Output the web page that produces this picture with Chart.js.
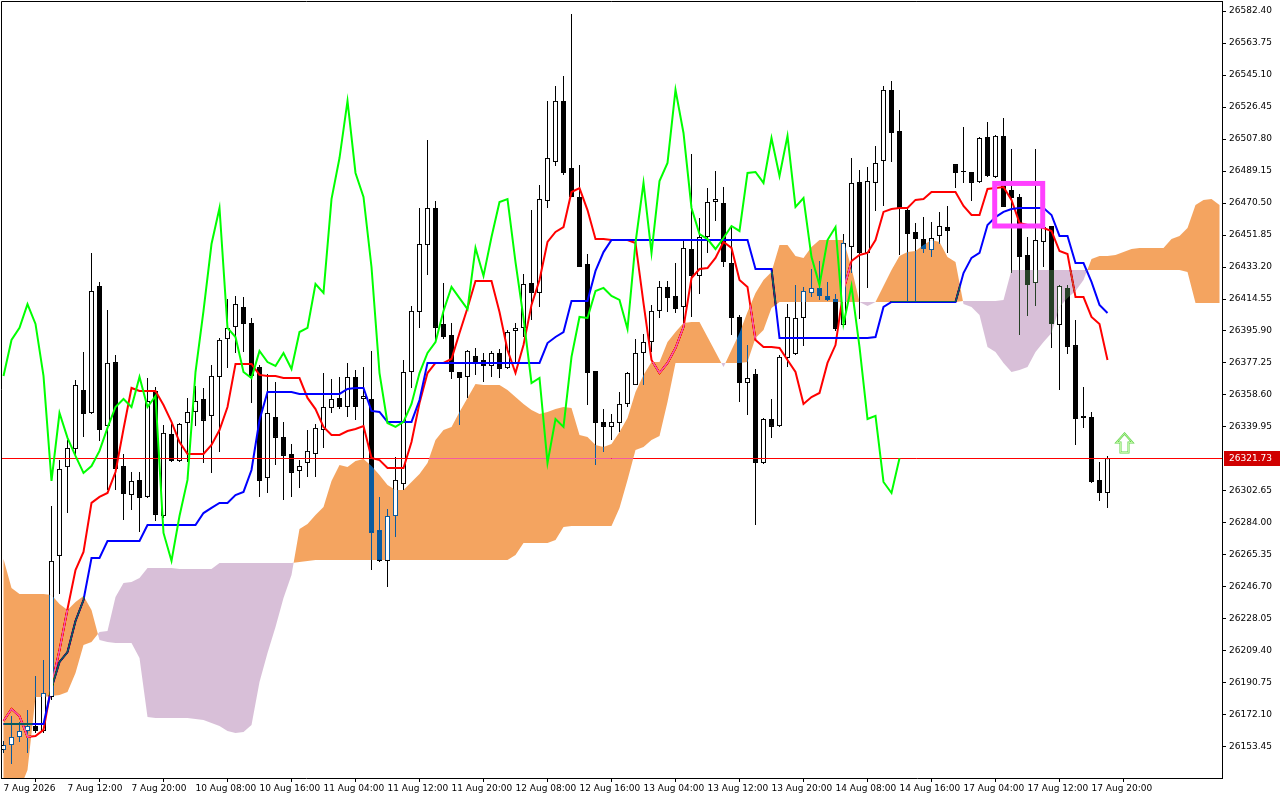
<!DOCTYPE html>
<html><head><meta charset="utf-8">
<script src="https://cdn.jsdelivr.net/npm/chart.js@4.4.1/dist/chart.umd.min.js"></script>
<style>html,body{margin:0;padding:0;background:#fff;overflow:hidden}canvas{display:block}</style>
</head><body>
<canvas id="c" width="1280" height="800"></canvas>
<script>
const xLabels = ['7 Aug 2026','7 Aug 12:00','7 Aug 20:00','10 Aug 08:00','10 Aug 16:00','11 Aug 04:00','11 Aug 12:00','11 Aug 20:00','12 Aug 08:00','12 Aug 16:00','13 Aug 04:00','13 Aug 12:00','13 Aug 20:00','14 Aug 08:00','14 Aug 16:00','17 Aug 04:00','17 Aug 12:00','17 Aug 20:00'];
const xTickIdx = [0,8,16,24,32,40,48,56,64,72,80,88,96,104,112,120,128,136];
const yTicks = [26153.45,26172.10,26190.75,26209.40,26228.05,26246.70,26265.35,26284.00,26302.65,26339.95,26358.60,26377.25,26395.90,26414.55,26433.20,26451.85,26470.50,26489.15,26507.80,26526.45,26545.10,26563.75,26582.40];

const open = [
26151.7,26154.6,26159.3,26162.8,26165.7,26162.8,26182.6,26264.8,26316.6,26327.1,
26361.5,26348.1,26422.1,26340.5,26377.8,26317.2,26300.3,26309.1,26299.2,26360.9,
26288.1,26335.9,26320.1,26342.3,26348.7,26356.3,26346.4,26369.1,26391.2,26398.2,
26409.9,26400.6,26374.9,26310.2,26345.8,26334.1,26324.2,26314.3,26319.0,26324.2,
26338.2,26351.0,26356.9,26351.6,26369.1,26356.3,26356.3,26279.9,26261.9,26288.1,
26306.7,26372.0,26407.0,26446.0,26467.6,26400.0,26393.6,26372.0,26369.1,26381.3,
26379.0,26375.5,26383.1,26374.3,26395.9,26397.7,26423.9,26418.1,26471.7,26494.4,
26530.0,26490.9,26474.0,26435.0,26372.6,26342.9,26340.0,26342.3,26353.4,26364.4,
26383.1,26389.5,26407.6,26421.6,26416.3,26409.9,26443.7,26428.0,26450.7,26471.1,
26470.5,26435.5,26404.1,26365.6,26370.8,26319.0,26344.6,26340.5,26380.2,26382.5,
26403.5,26418.1,26421.0,26416.3,26414.6,26399.4,26444.9,26482.7,26441.4,26482.2,
26495.0,26536.4,26512.5,26466.4,26453.6,26449.5,26443.1,26451.3,26456.5,26493.2,
26489.2,26488.6,26482.7,26509.0,26485.7,26509.6,26478.1,26474.0,26440.2,26423.9,
26447.8,26457.1,26399.4,26421.0,26387.7,26345.2,26345.8,26309.1,26301.5];
const high = [
26157.0,26171.5,26168.0,26175.0,26194.8,26204.2,26293.9,26320.7,26332.4,26367.4,
26383.7,26441.4,26424.5,26408.1,26381.9,26324.2,26313.7,26313.7,26368.5,26363.3,
26341.1,26341.7,26342.3,26356.9,26363.9,26362.7,26376.1,26391.8,26414.6,26416.3,
26415.7,26403.5,26376.1,26370.8,26366.2,26342.9,26330.1,26320.7,26338.2,26341.7,
26371.4,26367.9,26369.1,26377.3,26373.2,26374.9,26384.3,26299.2,26292.2,26322.5,
26379.0,26410.5,26467.6,26507.2,26471.7,26423.9,26400.6,26372.0,26384.8,26386.0,
26383.1,26384.3,26385.4,26396.5,26400.6,26429.1,26466.4,26481.0,26530.0,26538.7,
26544.5,26580.7,26492.7,26440.8,26372.6,26350.4,26347.5,26360.4,26372.0,26391.2,
26394.2,26411.1,26425.0,26425.0,26435.5,26448.4,26499.1,26461.8,26479.2,26489.2,
26479.8,26456.5,26405.2,26387.7,26373.8,26345.2,26356.3,26381.9,26411.6,26422.7,
26421.6,26432.0,26436.7,26424.5,26417.5,26452.4,26496.7,26489.7,26491.5,26503.7,
26538.7,26541.6,26524.7,26467.6,26458.9,26462.3,26459.4,26465.3,26468.8,26493.2,
26514.8,26488.6,26509.0,26517.7,26510.1,26520.0,26502.0,26475.8,26450.7,26502.0,
26456.5,26457.1,26422.7,26422.7,26402.3,26363.3,26348.7,26319.6,26323.1];
const low = [
26150.0,26143.6,26156.4,26150.0,26161.6,26161.6,26180.9,26242.6,26289.8,26323.1,
26334.1,26347.5,26331.8,26303.2,26303.2,26285.8,26291.6,26278.8,26298.6,26285.2,
26286.9,26319.6,26319.6,26319.6,26340.5,26319.0,26313.2,26325.4,26374.3,26383.1,
26383.7,26353.9,26299.2,26301.5,26317.8,26297.4,26299.2,26304.4,26310.8,26310.8,
26327.7,26348.1,26350.4,26345.8,26344.0,26321.9,26256.6,26261.3,26246.7,26275.9,
26303.2,26362.7,26397.7,26428.5,26389.5,26391.2,26367.9,26341.1,26356.9,26370.3,
26366.2,26369.1,26368.5,26373.8,26377.8,26392.4,26402.3,26409.9,26467.6,26492.1,
26486.8,26474.0,26433.2,26352.8,26317.8,26325.4,26332.4,26337.0,26351.6,26364.4,
26364.4,26383.7,26403.5,26407.0,26406.4,26398.2,26404.1,26417.5,26441.4,26460.0,
26433.2,26393.6,26354.5,26347.0,26282.8,26318.4,26333.6,26340.0,26374.9,26381.9,
26387.2,26415.7,26414.0,26413.4,26395.9,26398.2,26429.7,26402.9,26421.0,26465.8,
26468.8,26494.4,26440.2,26412.8,26412.8,26441.4,26439.0,26446.6,26441.4,26479.2,
26482.2,26471.7,26482.2,26485.7,26485.1,26468.2,26429.7,26393.6,26404.7,26410.5,
26433.2,26386.0,26361.5,26382.5,26329.5,26339.4,26307.3,26296.8,26292.8];
const close = [
26154.6,26159.3,26162.8,26165.7,26162.8,26184.9,26261.9,26315.5,26327.7,26364.4,
26347.5,26419.2,26338.2,26377.3,26315.5,26300.9,26308.5,26298.6,26355.1,26288.7,
26336.5,26320.1,26341.7,26348.7,26355.1,26343.5,26369.7,26390.7,26397.7,26411.6,
26400.0,26369.7,26308.5,26348.1,26333.6,26323.1,26313.2,26317.2,26326.0,26339.4,
26351.6,26356.3,26351.6,26369.1,26351.6,26358.0,26278.2,26261.9,26288.1,26309.1,
26372.0,26407.6,26446.6,26467.6,26397.7,26392.4,26372.0,26368.5,26384.3,26377.8,
26375.5,26383.1,26373.8,26395.3,26397.7,26423.3,26418.1,26472.8,26496.7,26530.0,
26488.0,26474.0,26433.2,26371.4,26342.3,26340.0,26342.9,26353.4,26371.4,26383.1,
26389.5,26407.6,26421.6,26415.1,26408.7,26444.3,26428.0,26450.7,26471.1,26472.8,
26436.1,26403.5,26365.6,26368.5,26319.0,26344.6,26340.0,26380.8,26404.1,26403.5,
26419.2,26421.0,26416.3,26414.0,26397.1,26447.2,26482.2,26441.4,26483.3,26493.8,
26536.4,26511.3,26467.6,26452.4,26449.5,26443.7,26450.1,26457.1,26454.2,26488.0,
26488.6,26482.2,26508.4,26486.2,26509.6,26468.2,26473.4,26439.0,26422.7,26448.9,
26456.5,26400.0,26422.1,26386.6,26344.6,26346.4,26307.9,26301.5,26321.73];
const tenkan = [
26168.6,26175.6,26171.5,26159.3,26159.9,26163.4,26189.0,26210.0,26233.9,26256.6,
26267.1,26295.7,26299.2,26301.5,26313.7,26338.8,26362.7,26360.9,26360.9,26360.9,
26352.8,26342.9,26331.2,26324.2,26324.2,26324.2,26329.5,26338.2,26351.6,26376.7,
26376.7,26376.7,26370.3,26369.7,26369.7,26368.5,26368.5,26368.5,26356.9,26350.4,
26340.0,26335.3,26335.3,26337.6,26338.8,26340.5,26321.9,26320.7,26316.1,26316.1,
26316.1,26331.2,26353.9,26371.4,26377.3,26377.3,26379.6,26394.7,26409.3,26425.0,
26425.0,26425.0,26407.0,26384.8,26371.4,26387.7,26411.1,26425.6,26447.8,26453.6,
26456.5,26476.9,26479.2,26466.4,26449.5,26449.5,26448.9,26448.9,26448.9,26447.2,
26412.2,26379.0,26371.4,26377.3,26386.0,26398.2,26426.8,26432.0,26432.6,26438.5,
26447.8,26444.3,26425.6,26421.6,26390.7,26386.6,26386.6,26386.0,26379.0,26372.0,
26353.4,26357.4,26359.8,26377.3,26387.7,26419.8,26436.7,26440.2,26441.4,26448.9,
26465.3,26467.0,26467.6,26467.6,26472.3,26472.8,26476.9,26476.9,26476.9,26476.9,
26468.8,26463.5,26463.5,26478.7,26479.2,26479.8,26472.3,26458.9,26457.7,26457.1,
26455.9,26454.2,26442.5,26440.8,26415.7,26415.7,26404.1,26400.0,26379.0];
const kijun = [
26166.9,26166.9,26166.9,26166.9,26166.9,26166.9,26187.8,26203.0,26208.8,26226.9,
26239.1,26263.6,26263.6,26273.5,26273.5,26273.5,26273.5,26273.5,26282.8,26282.8,
26282.8,26282.8,26282.8,26282.8,26282.8,26289.8,26292.8,26295.7,26295.7,26300.3,
26302.1,26314.9,26344.0,26360.4,26360.4,26360.4,26360.4,26359.2,26359.2,26359.2,
26359.2,26359.2,26359.2,26362.1,26362.7,26362.7,26349.3,26348.7,26342.9,26342.9,
26342.9,26342.9,26355.7,26377.3,26377.3,26377.3,26377.3,26377.3,26377.3,26377.3,
26377.3,26377.3,26377.3,26377.3,26377.3,26377.3,26377.3,26377.3,26388.9,26392.4,
26395.3,26413.4,26413.4,26413.4,26430.9,26441.9,26448.9,26448.9,26448.9,26448.9,
26448.9,26448.9,26448.9,26448.9,26448.9,26448.9,26448.9,26448.9,26448.9,26448.9,
26448.9,26448.9,26448.9,26448.9,26432.0,26432.0,26432.0,26391.8,26391.8,26391.8,
26391.8,26391.8,26391.8,26391.8,26391.8,26391.8,26391.8,26391.8,26391.8,26392.4,
26409.9,26412.8,26412.8,26412.8,26412.8,26412.8,26412.8,26412.8,26412.8,26412.8,
26429.7,26438.5,26441.4,26457.7,26462.3,26465.3,26467.0,26467.6,26467.6,26467.6,
26467.6,26463.5,26451.3,26451.3,26435.5,26435.5,26424.5,26411.1,26406.4];
const spanA = [
26263.0,26246.1,26242.6,26242.6,26242.6,26242.6,26242.0,26236.8,26233.3,26238.0,
26241.5,26233.3,26215.8,26214.7,26214.1,26214.1,26214.1,26205.3,26170.9,26170.4,
26170.4,26170.4,26170.4,26170.4,26169.8,26169.2,26167.4,26165.7,26162.8,26161.6,
26162.2,26166.3,26191.3,26208.2,26223.4,26240.3,26253.7,26280.5,26283.4,26288.7,
26293.3,26308.5,26317.8,26316.6,26320.1,26321.3,26317.2,26312.0,26306.2,26303.2,
26303.2,26307.9,26312.6,26319.0,26332.4,26338.2,26340.0,26348.7,26356.9,26365.0,
26364.4,26364.4,26364.4,26361.5,26357.4,26353.4,26349.9,26347.5,26348.7,26350.4,
26351.6,26351.0,26335.3,26334.1,26329.5,26328.3,26330.1,26337.0,26345.2,26360.4,
26370.3,26377.8,26377.8,26389.5,26395.3,26400.6,26401.1,26401.1,26392.4,26383.7,
26374.9,26384.8,26394.7,26407.0,26418.1,26425.6,26430.3,26446.0,26446.0,26439.6,
26438.5,26444.9,26448.9,26448.9,26448.9,26448.9,26432.6,26412.8,26410.5,26412.8,
26422.1,26431.5,26439.6,26441.9,26442.5,26446.0,26448.9,26447.8,26439.0,26436.1,
26411.6,26409.9,26405.2,26386.6,26383.7,26377.3,26372.0,26373.2,26374.9,26383.7,
26389.5,26394.7,26409.9,26415.1,26419.2,26425.6,26437.9,26439.6,26439.6,26440.2,
26441.9,26443.7,26444.3,26444.3,26444.3,26444.3,26449.5,26451.3,26455.9,26469.3,
26472.3,26472.8,26469.3];
const spanB = [
26128.4,26128.4,26128.4,26140.1,26182.6,26182.6,26183.2,26183.8,26185.5,26196.6,
26212.9,26214.7,26220.5,26221.1,26240.9,26249.0,26249.6,26252.0,26257.8,26257.8,
26257.8,26257.8,26257.2,26257.2,26257.2,26257.2,26257.2,26260.7,26260.7,26260.7,
26260.7,26260.7,26260.7,26260.7,26260.7,26260.7,26260.7,26261.3,26261.9,26262.4,
26262.4,26262.4,26262.4,26262.4,26262.4,26262.4,26262.4,26262.4,26262.4,26262.4,
26262.4,26262.4,26262.4,26262.4,26262.4,26262.4,26262.4,26262.4,26262.4,26262.4,
26262.4,26262.4,26262.4,26262.4,26265.4,26272.4,26272.4,26272.4,26272.4,26274.1,
26281.7,26282.3,26282.3,26282.3,26282.3,26282.3,26282.3,26292.8,26309.1,26326.6,
26328.3,26332.4,26334.7,26354.5,26377.3,26377.3,26377.3,26377.3,26377.3,26377.3,
26377.3,26377.3,26377.3,26377.8,26391.8,26396.5,26409.3,26412.8,26412.8,26412.8,
26412.8,26412.8,26412.8,26412.8,26412.8,26412.8,26412.8,26412.8,26412.8,26412.8,
26412.8,26412.8,26412.8,26412.8,26412.8,26412.8,26412.8,26412.8,26412.8,26412.8,
26413.4,26413.4,26413.4,26413.4,26413.4,26414.0,26431.5,26431.5,26431.5,26431.5,
26431.5,26431.5,26431.5,26431.5,26431.5,26431.5,26431.5,26431.5,26431.5,26431.5,
26431.5,26431.5,26431.5,26431.5,26431.5,26431.5,26431.5,26431.5,26430.3,26412.2,
26412.2,26412.2,26412.2];
const chikouShift = 26;
const lastPrice = 26321.73;
const markBox = {from: 123.9, to: 129.9, top: 26481.9, bottom: 26457.1};
const signalArrow = {at: 140, price: 26336.5};

const FONT = 'DejaVu Sans';
Chart.defaults.font.family = FONT;
Chart.defaults.font.size = 9;
Chart.defaults.color = '#000';

const idx = open.map((_, i) => i);
const isBull = idx.map(i => close[i] >= open[i]);
const wickData = idx.map(i => ({x: i, y: [low[i], high[i]]}));
const bodyData = idx.map(i => ({x: i, y: [Math.min(open[i], close[i]), Math.max(open[i], close[i])]}));
const tenkanData = idx.map(i => ({x: i, y: tenkan[i]}));
const kijunData = idx.map(i => ({x: i, y: kijun[i]}));
const chikouData = close.slice(chikouShift).map((v, j) => ({x: j, y: v}));

const KIJUN_DS = 3, BODY_DS = 1;

function cloudPaths(chart) {
  const xs = chart.scales.x, ys = chart.scales.y;
  const up = new Path2D(), dn = new Path2D();
  for (let k = 0; k < spanA.length - 1; k++) {
    const xa = xs.getPixelForValue(k), xb = xs.getPixelForValue(k + 1);
    const a0 = ys.getPixelForValue(spanA[k]), b0 = ys.getPixelForValue(spanB[k]);
    const a1 = ys.getPixelForValue(spanA[k + 1]), b1 = ys.getPixelForValue(spanB[k + 1]);
    const d0 = spanA[k] - spanB[k], d1 = spanA[k + 1] - spanB[k + 1];
    if ((d0 >= 0 && d1 >= 0) || (d0 <= 0 && d1 <= 0)) {
      const p = (d0 + d1 >= 0) ? up : dn;
      p.moveTo(xa, a0); p.lineTo(xb, a1); p.lineTo(xb, b1); p.lineTo(xa, b0); p.closePath();
    } else {
      const t = d0 / (d0 - d1);
      const xc = xa + t * (xb - xa), yc = a0 + t * (a1 - a0);
      const p0 = d0 > 0 ? up : dn, p1 = d1 > 0 ? up : dn;
      p0.moveTo(xa, a0); p0.lineTo(xc, yc); p0.lineTo(xa, b0); p0.closePath();
      p1.moveTo(xc, yc); p1.lineTo(xb, a1); p1.lineTo(xb, b1); p1.closePath();
    }
  }
  return {up, dn};
}

const ichimokuPlugin = {
  id: 'ichimoku',
  beforeDraw(chart) {
    const c = chart.ctx;
    c.save(); c.fillStyle = '#fff'; c.fillRect(0, 0, chart.width, chart.height); c.restore();
  },
  afterDatasetDraw(chart, args) {
    if (args.index !== KIJUN_DS) return;
    const c = chart.ctx, ca = chart.chartArea, ys = chart.scales.y;
    c.save();
    c.beginPath(); c.rect(ca.left, ca.top, ca.right - ca.left, ca.bottom - ca.top); c.clip();
    const py = Math.round(ys.getPixelForValue(lastPrice)) + 0.5;
    c.strokeStyle = '#ff0000'; c.lineWidth = 1;
    c.beginPath(); c.moveTo(ca.left, py); c.lineTo(ca.right, py); c.stroke();
    const {up, dn} = cloudPaths(chart);
    c.globalCompositeOperation = 'difference';
    c.fillStyle = '#0b5b9f'; c.fill(up);
    c.fillStyle = '#274027'; c.fill(dn);
    c.globalCompositeOperation = 'source-over';
    const both = new Path2D(); both.addPath(up); both.addPath(dn);
    c.clip(both);
    c.fillStyle = '#fff';
    const meta = chart.getDatasetMeta(BODY_DS);
    meta.data.forEach((el, i) => {
      if (!isBull[i]) return;
      const p = el.getProps(['x', 'y', 'base', 'width'], true);
      const top = Math.min(p.y, p.base), bot = Math.max(p.y, p.base);
      if (bot - top > 2) c.fillRect(p.x - p.width / 2 + 1, top + 1, p.width - 2, bot - top - 2);
    });
    c.restore();
  },
  afterDatasetsDraw(chart) {
    const c = chart.ctx, xs = chart.scales.x, ys = chart.scales.y;
    const x0 = xs.getPixelForValue(markBox.from), x1 = xs.getPixelForValue(markBox.to);
    const y0 = ys.getPixelForValue(markBox.top), y1 = ys.getPixelForValue(markBox.bottom);
    c.save();
    c.strokeStyle = '#ff40ff'; c.lineWidth = 5;
    c.strokeRect(x0, y0, x1 - x0, y1 - y0);
    const ax = Math.round(xs.getPixelForValue(signalArrow.at)) + 0.5;
    const ay = Math.round(ys.getPixelForValue(signalArrow.price)) + 0.5;
    const pts = [[0,0],[8,9],[4,9],[4,19],[-4,19],[-4,9],[-8,9]];
    c.beginPath();
    pts.forEach((p, i) => i ? c.lineTo(ax + p[0], ay + p[1]) : c.moveTo(ax + p[0], ay + p[1]));
    c.closePath();
    c.strokeStyle = '#5fd34a'; c.lineWidth = 2; c.stroke();
    c.strokeStyle = '#d8ffb8'; c.lineWidth = 0.8; c.stroke();
    c.restore();
  },
  afterDraw(chart) {
    const c = chart.ctx, ca = chart.chartArea, ys = chart.scales.y;
    c.save();
    c.strokeStyle = '#000'; c.lineWidth = 1;
    c.beginPath();
    c.moveTo(ca.left + 0.5, ca.bottom); c.lineTo(ca.left + 0.5, ca.top + 0.5); c.lineTo(ca.right, ca.top + 0.5);
    c.stroke();
    const py = Math.round(ys.getPixelForValue(lastPrice));
    c.fillStyle = '#d00000';
    c.fillRect(ca.right + 2, py - 7, chart.width - ca.right - 2, 15);
    c.fillStyle = '#fff'; c.font = '9px ' + FONT; c.textBaseline = 'middle'; c.textAlign = 'left';
    c.fillText(lastPrice.toFixed(2), ca.right + 7, py + 1);
    c.restore();
  }
};

new Chart(document.getElementById('c'), {
  data: {
    datasets: [
      {type: 'bar', label: 'wick', data: wickData, order: 5, grouped: false, barThickness: 1,
       backgroundColor: '#000', borderWidth: 0, inflateAmount: 0, minBarLength: 1},
      {type: 'bar', label: 'body', data: bodyData, order: 4, grouped: false, barThickness: 5,
       backgroundColor: isBull.map(b => b ? '#fff' : '#000'), borderColor: '#000', borderWidth: 1,
       borderSkipped: false, inflateAmount: 0, minBarLength: 1},
      {type: 'line', label: 'Tenkan', data: tenkanData, order: 3, borderColor: '#ff0000', borderWidth: 2, pointRadius: 0, tension: 0},
      {type: 'line', label: 'Kijun', data: kijunData, order: 2, borderColor: '#0000ff', borderWidth: 2, pointRadius: 0, tension: 0},
      {type: 'line', label: 'Chikou', data: chikouData, order: 1, borderColor: '#00ff00', borderWidth: 2, pointRadius: 0, tension: 0}
    ]
  },
  options: {
    responsive: false, animation: false, events: [],
    layout: {autoPadding: false, padding: {left: 1, top: 1, right: 0, bottom: 0}},
    plugins: {legend: {display: false}, tooltip: {enabled: false}},
    scales: {
      x: {
        type: 'linear', offset: false, min: -0.3125, max: 152.3125,
        afterBuildTicks: s => { s.ticks = xTickIdx.map(v => ({value: v})); },
        afterFit: s => { s.height = 22; s.paddingLeft = 0; s.paddingRight = 0; s.paddingTop = 0; s.paddingBottom = 0; },
        grid: {drawOnChartArea: false, drawTicks: true, tickLength: 4, color: '#000'},
        border: {display: true, color: '#000'},
        ticks: {autoSkip: false, maxRotation: 0, minRotation: 0, align: 'start', padding: 1, labelOffset: 0,
                font: {size: 9, family: FONT}, color: '#000',
                callback: v => xLabels[xTickIdx.indexOf(v)]}
      },
      y: {
        type: 'linear', position: 'right', min: 26135.38, max: 26588.23,
        afterBuildTicks: s => { s.ticks = yTicks.map(v => ({value: v})); },
        afterFit: s => { s.width = 58; s.paddingTop = 0; s.paddingBottom = 0; s.paddingLeft = 0; s.paddingRight = 0; },
        grid: {drawOnChartArea: false, drawTicks: true, tickLength: 4, color: '#000'},
        border: {display: true, color: '#000'},
        ticks: {padding: 3, font: {size: 9, family: FONT}, color: '#000', callback: v => v.toFixed(2)}
      }
    }
  },
  plugins: [ichimokuPlugin]
});
</script>
</body></html>
